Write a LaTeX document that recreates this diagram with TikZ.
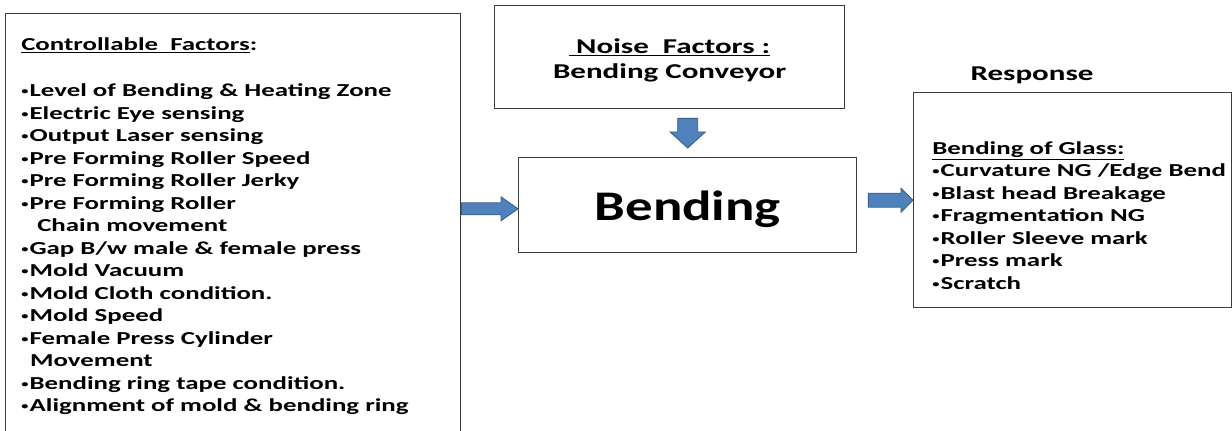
\documentclass[tikz,border=0pt]{standalone}
\usepackage{fontspec}
\setmainfont{Carlito}[FakeStretch=1.47]
\newfontfamily\bigfont{Carlito}[FakeStretch=1.3]
\usetikzlibrary{calc,positioning}
\definecolor{arrowblue}{RGB}{79,129,189}
\definecolor{arrowedge}{RGB}{56,93,138}
\definecolor{boxline}{RGB}{60,60,60}
\newcommand{\itm}{\raisebox{1.3pt}{\fontsize{7}{7}\selectfont\textbullet}\hspace{0.8pt}}
\tikzset{
  box/.style={rectangle, draw=boxline, line width=1pt, fill=white, inner sep=0pt},
  listtext/.style={font=\bfseries\fontsize{13}{16}\selectfont, align=left,
    inner sep=0pt, anchor=north west},
  headtext/.style={font=\bfseries\fontsize{15}{17.8}\selectfont, align=center,
    inner sep=0pt},
  % fat arrow: shaft half width / head half width / head length
  blockarrow/.style args={#1/#2/#3}{draw=arrowedge, fill=arrowblue,
    line width=0.6pt, line join=miter,
    to path={
      ($(\tikztostart)!#1!90:(\tikztotarget)$)
      -- ($(\tikztotarget)!#3!(\tikztostart)!#1!-90:(\tikztostart)$)
      -- ($(\tikztotarget)!#3!(\tikztostart)!#2!-90:(\tikztostart)$)
      -- (\tikztotarget)
      -- ($(\tikztotarget)!#3!(\tikztostart)!#2!90:(\tikztostart)$)
      -- ($(\tikztotarget)!#3!(\tikztostart)!#1!90:(\tikztostart)$)
      -- ($(\tikztostart)!#1!-90:(\tikztotarget)$)
      -- cycle}}
}

\begin{document}
\begin{tikzpicture}
  \useasboundingbox (0,0) rectangle (30.8,-10.775);
  \clip (0,0) rectangle (30.8,-10.775);

  % boxes
  \node[box, anchor=north west, minimum width=11.375cm, minimum height=11.5cm]
    (cfac) at (0.125,-0.325) {};
  \node[box, anchor=north west, minimum width=8.75cm, minimum height=2.575cm]
    (noise) at (12.35,-0.125) {};
  \node[box, anchor=north west, minimum width=8.45cm, minimum height=2.375cm,
    font=\bigfont\bfseries\fontsize{30}{36}\selectfont] (bend) at (12.95,-3.925)
    {\raisebox{-0.1cm}[\height][\depth]{Bending}};
  \node[box, anchor=north west, minimum width=7.95cm, minimum height=5.375cm]
    (resp) at (22.825,-2.3) {};

  % texts
  \node[listtext] (cfactext) at ([shift={(0.4,-0.6)}]cfac.north west)
    {\underline{Controllable\ \ Factors}:\\[0.6cm]
     \itm Level of Bending \& Heating Zone\\
     \itm Electric Eye sensing\\
     \itm Output Laser sensing\\
     \itm Pre Forming Roller Speed\\
     \itm Pre Forming Roller Jerky\\
     \itm Pre Forming Roller\\
     \hspace{0.4cm}Chain movement\\
     \itm Gap B/w male \& female press\\
     \itm Mold Vacuum\\
     \itm Mold Cloth condition.\\
     \itm Mold Speed\\
     \itm Female Press Cylinder\\
     \hspace{0.22cm}Movement\\
     \itm Bending ring tape condition.\\
     \itm Alignment of mold \& bending ring};
  \node[headtext] (noisetext) at ([yshift=-0.075cm]noise.center)
    {\underline{\ Noise\ \ Factors :}\\Bending Conveyor};
  \node[listtext] (resptext) at ([shift={(0.475,-1.225)}]resp.north west)
    {\underline{Bending of Glass:}\\
     \itm Curvature NG /Edge Bend\\
     \itm Blast head Breakage\\
     \itm Fragmentation NG\\
     \itm Roller Sleeve mark\\
     \itm Press mark\\
     \itm Scratch};
  \node[headtext] (resplabel) at (25.8,-1.875) {Response};

  % arrows
  \draw[blockarrow=0.15cm/0.3cm/0.425cm]
    ($(cfac.east |- bend.west)+(0,-0.09)$) to ($(bend.west)+(0,-0.09)$);
  \draw[blockarrow=0.25cm/0.44cm/0.4cm]
    ($(bend.north |- noise.south)+(0,-0.225)$) to ($(bend.north)+(0,0.225)$);
  \draw[blockarrow=0.175cm/0.3cm/0.3cm]
    ($(bend.east |- resp.west)+(0.275,0)$) to (resp.west);
\end{tikzpicture}
\end{document}
